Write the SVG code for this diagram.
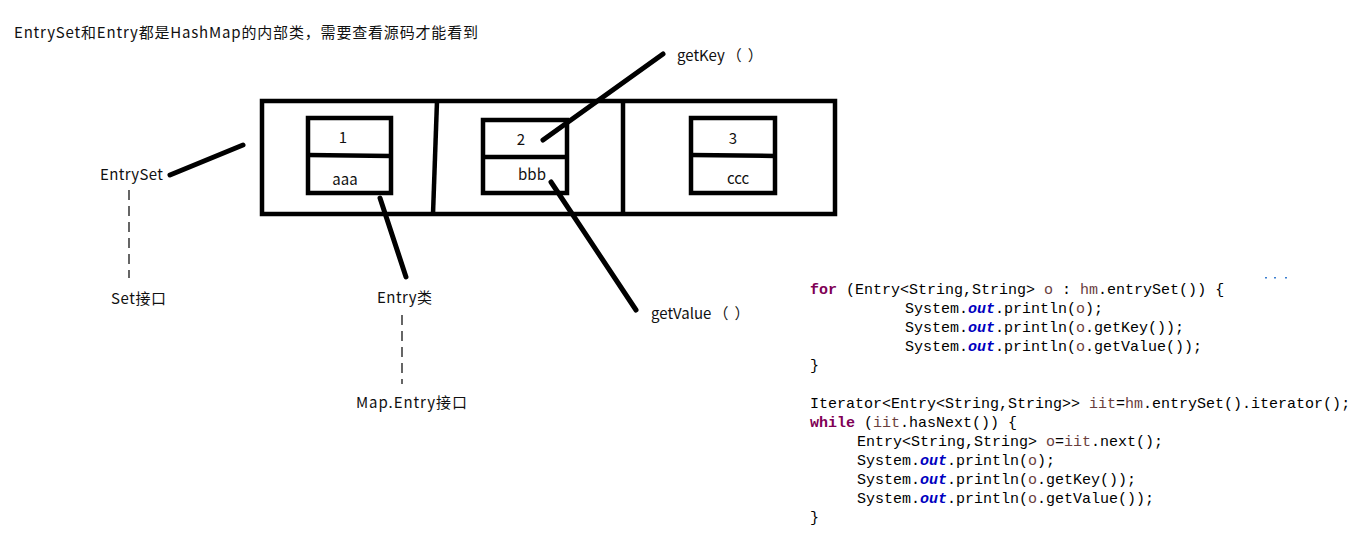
<svg xmlns="http://www.w3.org/2000/svg" width="1354" height="534" viewBox="0 0 1354 534">
<style>
.t{font-family:"Noto Sans CJK SC","Liberation Sans",sans-serif;font-size:15px;fill:#111}
.c{font-family:"Liberation Mono",monospace;font-size:15px;fill:#000}
.k{fill:#7f0055;font-weight:bold}
.o{fill:#0000c0;font-weight:bold;font-style:italic}
.v{fill:#6a3e3e}
.box{fill:none;stroke:#000;stroke-width:4.5}
.ln{fill:none;stroke:#000;stroke-width:5;stroke-linecap:round}
.ds{fill:none;stroke:#000;stroke-width:1.2;stroke-dasharray:10 6}
</style>
<rect width="1354" height="534" fill="#fff"/>
<text class="t" x="14" y="38" textLength="464">EntrySet和Entry都是HashMap的内部类，需要查看源码才能看到</text>
<g id="entryset">
<rect class="box" x="262" y="101" width="573" height="113"/>
<line class="box" x1="437" y1="101" x2="433" y2="214"/>
<line class="box" x1="623" y1="101" x2="623" y2="214"/>
</g>
<g id="entry1">
<rect class="box" x="308" y="118" width="83" height="75"/>
<line class="box" x1="308" y1="155" x2="391" y2="156"/>
<text class="t" x="343" y="143" text-anchor="middle">1</text>
<text class="t" x="345" y="185" text-anchor="middle">aaa</text>
</g>
<g id="entry2">
<rect class="box" x="483" y="120" width="84" height="73"/>
<line class="box" x1="483" y1="157" x2="567" y2="157"/>
<text class="t" x="521" y="145" text-anchor="middle">2</text>
<text class="t" x="532" y="180" text-anchor="middle">bbb</text>
</g>
<g id="entry3">
<rect class="box" x="691" y="118" width="84" height="75"/>
<line class="box" x1="691" y1="155" x2="775" y2="156"/>
<text class="t" x="733" y="144" text-anchor="middle">3</text>
<text class="t" x="738" y="184" text-anchor="middle">ccc</text>
</g>
<g id="labels">
<text class="t" x="100" y="180" textLength="63">EntrySet</text>
<text class="t" x="111" y="304" textLength="55">Set接口</text>
<text class="t" x="377" y="303" textLength="55">Entry类</text>
<text class="t" x="356" y="408" textLength="111">Map.Entry接口</text>
<text class="t" x="677" y="61">getKey<tspan dx="2">（</tspan><tspan dx="6">）</tspan></text>
<text class="t" x="651" y="319">getValue<tspan dx="2">（</tspan><tspan dx="6">）</tspan></text>
</g>
<g id="connectors">
<line class="ln" x1="170" y1="175" x2="243" y2="145"/>
<line class="ln" x1="380" y1="198" x2="406" y2="277"/>
<line class="ln" x1="551" y1="182" x2="636" y2="310"/>
<line class="ln" x1="543" y1="140" x2="663" y2="54"/>
<line class="ds" x1="129" y1="190" x2="129" y2="278"/>
<line class="ds" x1="402" y1="315" x2="402" y2="384"/>
</g>
<g id="dots" fill="#3b7fd0">
<rect x="1265" y="277" width="2" height="1.5"/>
<rect x="1274" y="277" width="2" height="1.5"/>
<rect x="1285" y="277" width="2" height="1.5"/>
</g>
<g id="code" class="c" xml:space="preserve">
<text x="810" y="294"><tspan class="k">for</tspan> (Entry&lt;String,String&gt; <tspan class="v">o</tspan> : <tspan class="v">hm</tspan>.entrySet()) {</text>
<text x="905" y="313">System.<tspan class="o">out</tspan>.println(<tspan class="v">o</tspan>);</text>
<text x="905" y="332">System.<tspan class="o">out</tspan>.println(<tspan class="v">o</tspan>.getKey());</text>
<text x="905" y="351">System.<tspan class="o">out</tspan>.println(<tspan class="v">o</tspan>.getValue());</text>
<text x="810" y="370">}</text>
<text x="810" y="408">Iterator&lt;Entry&lt;String,String&gt;&gt; <tspan class="v">iit</tspan>=<tspan class="v">hm</tspan>.entrySet().iterator();</text>
<text x="810" y="427"><tspan class="k">while</tspan> (<tspan class="v">iit</tspan>.hasNext()) {</text>
<text x="857" y="446">Entry&lt;String,String&gt; <tspan class="v">o</tspan>=<tspan class="v">iit</tspan>.next();</text>
<text x="857" y="465">System.<tspan class="o">out</tspan>.println(<tspan class="v">o</tspan>);</text>
<text x="857" y="484">System.<tspan class="o">out</tspan>.println(<tspan class="v">o</tspan>.getKey());</text>
<text x="857" y="503">System.<tspan class="o">out</tspan>.println(<tspan class="v">o</tspan>.getValue());</text>
<text x="810" y="522">}</text>
</g>
</svg>
